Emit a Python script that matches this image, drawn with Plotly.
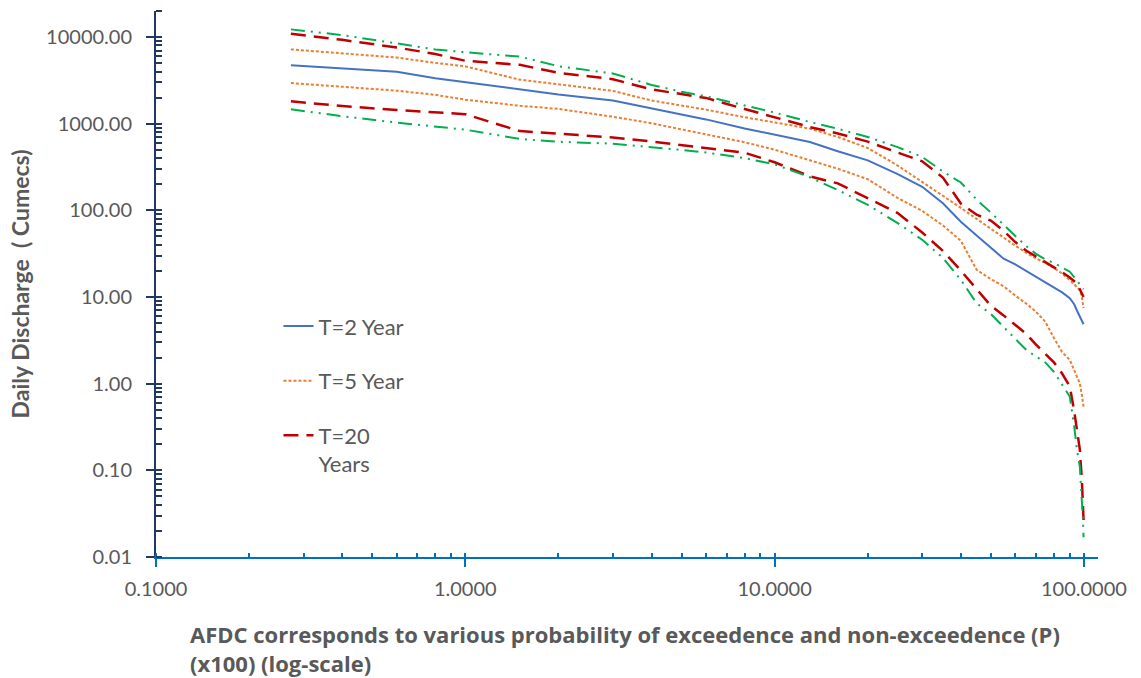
import plotly.graph_objects as go

# Probability of exceedence (x100)
P = [0.273, 0.4, 0.6, 0.8, 1, 1.5, 2, 3, 4, 5, 6, 8, 10, 13, 16, 20, 25, 30, 35, 40,
     45, 50, 55, 60, 65, 70, 75, 80, 85, 90, 93, 95, 97, 98.5, 99.3, 99.73]

# Daily discharge (Cumecs)
t2 = [4721, 4365, 3990, 3357, 3027, 2489, 2178, 1858, 1507, 1283, 1122, 883, 743, 615, 482,
      378, 262, 187, 121, 74, 51.2, 36.8, 27.7, 23.8, 20.0, 17.0, 14.7, 12.9, 11.3, 9.7,
      8.26, 6.95, 5.93, 5.37, 5.09, 4.85]
t5_upper = [7211, 6520, 5803, 5039, 4592, 3226, 2870, 2395, 1852, 1626, 1455, 1189, 1028, 878,
            704, 525, 329, 213, 149, 107, 79.8, 61.0, 48.4, 39.1, 32.6, 27.9, 24.8, 21.7,
            18.7, 15.8, 14.1, 12.9, 12.0, 9.95, 8.49, 7.43]
t5_lower = [2946, 2671, 2409, 2155, 1895, 1613, 1483, 1205, 1014, 861, 753, 612, 501, 378, 303,
            229, 139, 98.8, 67.0, 44.6, 20.6, 16.1, 13.3, 10.4, 8.43, 6.76, 5.19, 3.37, 2.32,
            1.88, 1.45, 1.20, 1.01, 0.74, 0.61, 0.54]
t20_upper = [10940, 9290, 7590, 6370, 5330, 4780, 3873, 3266, 2489, 2208, 1986, 1479, 1180, 916,
             773, 622, 465, 368, 239, 120, 89.1, 76.2, 58.1, 43.1, 34.4, 29.4, 25.1, 21.9,
             19.3, 16.8, 15.2, 14.3, 12.3, 11.1, 10.5, 10.0]
t20_lower = [1813, 1604, 1439, 1346, 1290, 822, 771, 695, 625, 571, 525, 463, 359, 247, 205,
             137, 93.1, 55.6, 34.1, 20.2, 12.5, 7.94, 6.14, 4.82, 3.78, 2.82, 2.23, 1.76, 1.31,
             0.93, 0.486, 0.286, 0.174, 0.076, 0.0415, 0.0267]
t100_upper = [12270, 10540, 8460, 7190, 6680, 5960, 4614, 3802, 2805, 2340, 2075, 1644, 1346,
              1047, 874, 704, 537, 414, 281, 210, 133, 94.4, 69.0, 51.5, 38.8, 31.5, 27.2,
              24.7, 21.7, 19.6, 17.0, 15.3, 13.9, 13.0, 12.5, 12.3]
t100_lower = [1466, 1222, 1030, 921, 855, 668, 620, 589, 540, 499, 466, 401, 340, 241, 172, 116,
              71.4, 45.8, 28.4, 15.8, 8.47, 6.37, 4.51, 3.28, 2.47, 2.06, 1.76, 1.37, 0.96,
              0.711, 0.324, 0.169, 0.111, 0.0474, 0.0267, 0.0169]

GRAY = "#595959"
FONT = "Lato"
TFONT = "Open Sans"

fig = go.Figure()

def add(y, name, color, dash, width, group, show):
    fig.add_trace(go.Scatter(
        x=P, y=y, mode="lines", name=name, legendgroup=group, showlegend=show,
        line=dict(color=color, dash=dash, width=width)))

add(t2, "T=2 Year", "#4472C4", "solid", 2, "g2", True)
add(t5_upper, "T=5 Year", "#ED7D31", "3px,2px", 2, "g5", True)
add(t5_lower, "T=5 Year", "#ED7D31", "3px,2px", 2, "g5", False)
add(t20_upper, "T=20<br>Years", "#C00000", "15px,8px", 2.5, "g20", True)
add(t20_lower, "T=20<br>Years", "#C00000", "15px,8px", 2.5, "g20", False)
add(t100_upper, "T=100 Years", "#00B050", "14px,6px,2px,6px,2px,6px", 2, "g100", False)
add(t100_lower, "T=100 Years", "#00B050", "14px,6px,2px,6px,2px,6px", 2, "g100", False)

fig.update_layout(
    width=1141, height=678,
    margin=dict(l=156, r=43, t=11, b=121),
    paper_bgcolor="white", plot_bgcolor="white",
    font=dict(family=FONT, color=GRAY, size=20),
    legend=dict(x=0.13, y=0.461, xanchor="left", yanchor="top", valign="top",
                traceorder="grouped", tracegroupgap=23,
                bgcolor="rgba(0,0,0,0)", font=dict(size=22, color=GRAY, family=FONT)),
    showlegend=True,
)

fig.update_xaxes(
    type="log", range=[-1, 2.0455], dtick=1, tickformat=".4f",
    showgrid=False, zeroline=False,
    showline=True, linecolor="#0070C0", linewidth=2,
    ticks="outside", ticklen=8, tickwidth=2, tickcolor="#0070C0",
    ticklabelstandoff=5,
    tickfont=dict(size=20, color=GRAY, family=FONT),
    minor=dict(dtick="D1", ticks="inside", ticklen=4, tickwidth=1.5,
               tickcolor="#0070C0", showgrid=False),
)
fig.update_yaxes(
    type="log", range=[-2, 4.301], dtick=1, tickformat=".2f",
    showgrid=False, zeroline=False,
    showline=True, linecolor="#1F3864", linewidth=2,
    ticks="outside", ticklen=8, tickwidth=2, tickcolor="#1F3864",
    ticklabelstandoff=10,
    tickfont=dict(size=20, color=GRAY, family=FONT),
    minor=dict(dtick="D1", ticks="inside", ticklen=6, tickwidth=1.5,
               tickcolor="#1F3864", showgrid=False),
    title=dict(text="<b>Daily Discharge&nbsp; ( Cumecs)</b>", standoff=10,
               font=dict(size=23, color=GRAY, family=FONT)),
)

fig.add_annotation(
    xref="paper", yref="paper", x=0.034, y=(557 - 634) / 546, xanchor="left", yanchor="middle",
    showarrow=False,
    text="<b>AFDC corresponds to various probability of exceedence and non-exceedence (P)</b>",
    font=dict(size=22, color=GRAY, family=TFONT),
)
fig.add_annotation(
    xref="paper", yref="paper", x=0.034, y=(557 - 663) / 546, xanchor="left", yanchor="middle",
    showarrow=False,
    text="<b>(x100) (log-scale)</b>",
    font=dict(size=22, color=GRAY, family=TFONT),
)

fig.write_html("out.html")
